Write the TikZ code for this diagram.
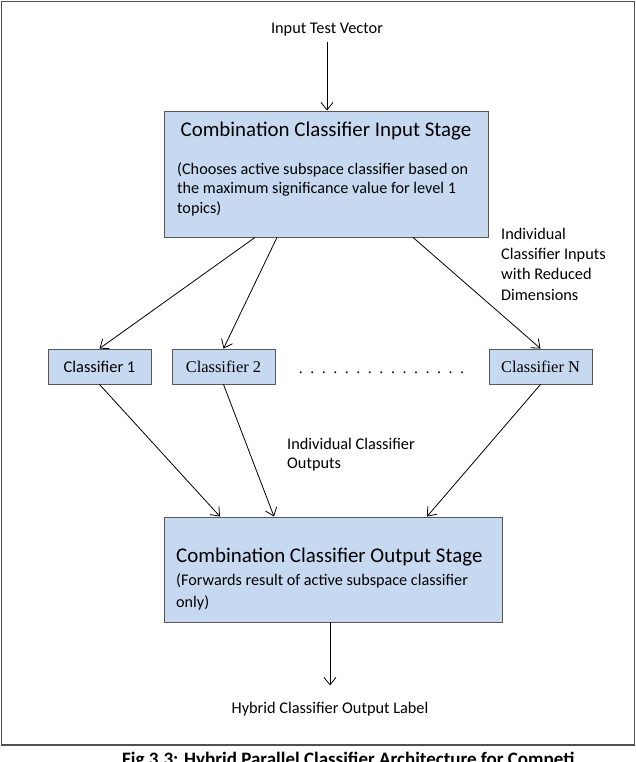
\documentclass[tikz,border=0pt]{standalone}
\usepackage{fontspec}
\setmainfont{Carlito}
\newfontfamily\timesf{Liberation Serif}
\usetikzlibrary{arrows.meta}
\definecolor{boxfill}{RGB}{198,217,241}
\definecolor{boxline}{RGB}{88,88,88}
\definecolor{frameline}{RGB}{80,80,80}
\begin{document}
\begin{tikzpicture}[x=1pt,y=-1pt,
  stagebox/.style={draw=boxline, fill=boxfill, line width=0.9pt, inner sep=0pt},
  clsbox/.style={stagebox, minimum width=103pt, minimum height=35pt},
  lbl/.style={inner sep=0pt, font=\fontsize{16.3}{20.3}\selectfont},
  conn/.style={-{Straight Barb[length=7.5pt,width=12pt]}, line width=0.8pt},
]
\useasboundingbox (0,0) rectangle (636,762);
% outer frame
\draw[frameline, line width=1.3pt] (1.5,1.5) rectangle (634.5,745);

% input label
\node[lbl, anchor=base] (invec) at (327,33.5) {Input Test Vector};

% input stage
\node[stagebox, minimum width=324pt, minimum height=126pt] (inbox) at (326,174) {};
\node[anchor=base, inner sep=0pt, font=\fontsize{20.9}{25}\selectfont] (intitle) at (326,137) {Combination Classifier Input Stage};
\node[anchor=base west, align=left, inner sep=0pt, font=\fontsize{16.2}{19.5}\selectfont] (inbody) at (177,213)
  {(Chooses active subspace classifier based on\\the maximum significance value for level 1\\topics)};

% classifiers
\node[clsbox, font=\fontsize{16.4}{19}\selectfont] (c1) at (99.5,366.5) {Classifier 1};
\node[clsbox, font=\timesf\fontsize{16.4}{19}\selectfont] (c2) at (223.5,366.5) {Classifier 2};
\node[clsbox, font=\timesf\fontsize{16.4}{19}\selectfont] (cN) at (540.5,366.5) {Classifier N};
\node[anchor=base, inner sep=0pt, font=\timesf\fontsize{16}{19}\selectfont] (dots) at (381.5,373)
  {\spaceskip=6.2pt\relax . . . . . . . . . . . . . . .};

% output stage
\node[stagebox, minimum width=338pt, minimum height=105pt] (outbox) at (333,569.5) {};
\node[anchor=base west, inner sep=0pt, font=\fontsize{20.9}{25}\selectfont] (outtitle) at (176,562) {Combination Classifier Output Stage};
\node[anchor=base west, align=left, inner sep=0pt, font=\fontsize{16.2}{22}\selectfont] (outbody) at (176,607)
  {(Forwards result of active subspace classifier\\only)};

% side labels
\node[lbl, anchor=base west, align=left] (inlbl) at (501,300) {Individual\\Classifier Inputs\\with Reduced\\Dimensions};
\node[lbl, anchor=base west, align=left, font=\fontsize{16.3}{19.5}\selectfont] (outlbl) at (287,468.5) {Individual Classifier\\Outputs};
\node[lbl, anchor=base] (hyb) at (330,713) {Hybrid Classifier Output Label};

% caption (cut off at the bottom edge)
\node[anchor=base west, inner sep=0pt, font=\bfseries\fontsize{19}{22}\selectfont] (caption) at (122,765)
  {Fig 3.3: Hybrid Parallel Classifier Architecture for Competi};

% connectors
\draw[conn, shorten <=6pt] (invec.south) -- (invec.south |- inbox.north);
\draw[conn] ([xshift=-71pt]inbox.south) -- (c1.north);
\draw[conn] ([xshift=-49pt]inbox.south) -- (c2.north);
\draw[conn] ([xshift=87pt]inbox.south) -- (cN.north);
\draw[conn] (c1.south) -- ([xshift=-113pt]outbox.north);
\draw[conn] (c2.south) -- ([xshift=-59pt]outbox.north);
\draw[conn] (cN.south) -- ([xshift=94pt]outbox.north);
\draw[conn, shorten >=16pt] ([xshift=-3pt]outbox.south) -- ([xshift=-3pt]outbox.south |- hyb.north);
\end{tikzpicture}
\end{document}
